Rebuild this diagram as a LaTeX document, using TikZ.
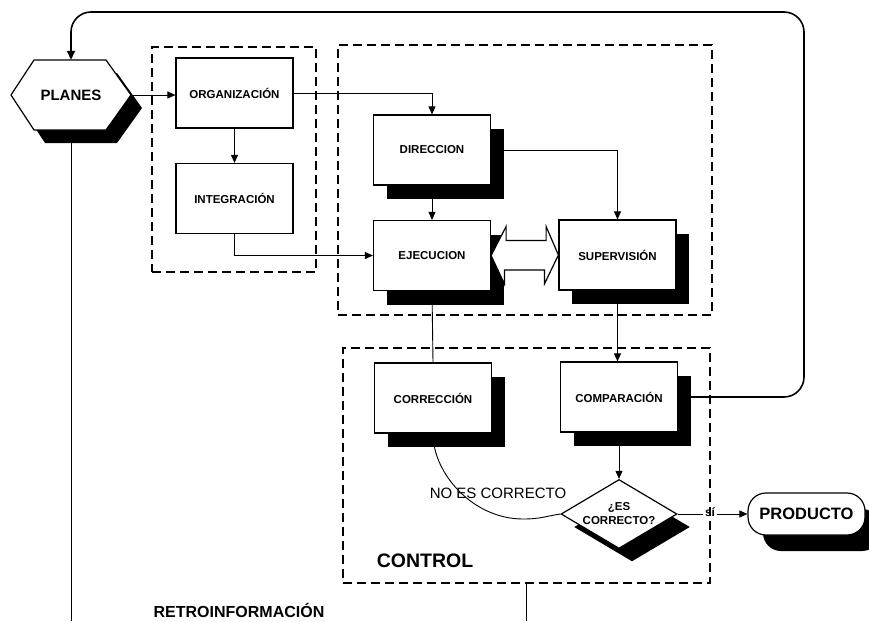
\documentclass[tikz,border=0pt]{standalone}
\usepackage{fontspec}
\setmainfont{Liberation Sans}
\usetikzlibrary{arrows.meta,shapes.geometric,shadows,calc}
\begin{document}
\begin{tikzpicture}[x=1pt,y=-1pt,
  box/.style={draw, line width=1.2pt, fill=white, minimum width=117pt, minimum height=70pt, inner sep=0pt, font=\bfseries\fontsize{11.5}{13}\selectfont},
  shbox/.style={box, drop shadow={shadow xshift=13pt, shadow yshift=-14pt, fill=black, opacity=1}},
  dframe/.style={draw, dash pattern=on 9pt off 5pt, line width=1.2pt, inner sep=0pt},
  conn/.style={line width=0.9pt},
  arr/.style={conn, -{Triangle[length=8pt,width=7pt]}},
  txt/.style={inner sep=0pt}
]
\useasboundingbox (0,0) rectangle (869,621);
\coordinate (bot) at (0,621);
\coordinate (tr) at (804,12);
\coordinate (pc) at (71,95);

% dashed frames
\node[dframe, minimum width=164pt, minimum height=225pt] (g1) at (234,159.5) {};
\node[dframe, minimum width=374pt, minimum height=270pt] (g2) at (525,180) {};
\node[dframe, minimum width=367pt, minimum height=235pt] (ctrl) at (526.5,465.5) {};

% PLANES hexagon
\fill[black] ($(pc)+(-49,13)$) -- ($(pc)+(-26,-22)$) -- ($(pc)+(46,-22)$) -- ($(pc)+(71,13)$) -- ($(pc)+(46,48)$) -- ($(pc)+(-26,48)$) -- cycle;
\draw[line width=1.2pt, fill=white] ($(pc)+(-60,0)$) -- ($(pc)+(-37,-35)$) -- ($(pc)+(35,-35)$) -- ($(pc)+(60,0)$) -- ($(pc)+(35,35)$) -- ($(pc)+(-37,35)$) -- cycle;
\node[txt, minimum width=120pt, minimum height=70pt, font=\bfseries\fontsize{15}{17}\selectfont] (planes) at (pc) {PLANES};

% boxes
\node[box] (org) at (234.5,93) {ORGANIZACIÓN};
\node[box] (integ) at (234.5,198.5) {INTEGRACIÓN};
\node[shbox] (dir) at (432,150) {DIRECCION};
\node[shbox] (ejec) at (432,255.5) {EJECUCION};
\node[shbox] (super) at (617.5,255) {SUPERVISIÓN};
\node[shbox] (corr) at (433,398) {CORRECCIÓN};
\node[shbox] (comp) at (619,397) {COMPARACIÓN};

\node[diamond, draw, line width=1.2pt, fill=white, minimum width=116pt, minimum height=69pt, inner sep=0pt,
      drop shadow={shadow xshift=13pt, shadow yshift=-13pt, fill=black, opacity=1}] (dia) at (619,514) {};
\node[txt, align=center, font=\bfseries\fontsize{11.5}{14}\selectfont] (diatext) at (dia.center) {¿ES\\CORRECTO?};

\node[draw, line width=1.2pt, fill=white, rounded corners=18pt, minimum width=117pt, minimum height=42pt, inner sep=0pt,
      font=\bfseries\fontsize{16.5}{18}\selectfont,
      drop shadow={shadow xshift=15pt, shadow yshift=-16pt, fill=black, opacity=1}] (prod) at (806.5,514) {PRODUCTO};

% double arrow between EJECUCION and SUPERVISION
\draw[line width=1.2pt, fill=white] (ejec.east) -- ++(15,-29) -- ++(0,14) -- ++(40,0) -- ++(0,-14) -- (super.west)
  -- ++(-14,29) -- ++(0,-14) -- ++(-40,0) -- ++(0,14) -- cycle;

% connectors
\draw[arr] (planes.east) -- (planes.east -| org.west);
\draw[arr] (org.south) -- (integ.north);
\draw[arr] (org.east) -| (dir.north);
\draw[arr] (integ.south) |- (ejec.west);
\draw[arr] (dir.south) -- (ejec.north);
\draw[arr] (dir.east) -| (super.north);
\draw[conn] (ejec.south) -- (corr.north);
\draw[arr] (super.south) -- (super.south |- comp.north);
\draw[arr] (comp.south) -- (comp.south |- dia.north);

\node[inner sep=1.5pt, font=\bfseries\fontsize{12}{13}\selectfont] (si) at (710,512) {sí};
\draw[conn] (dia.east) -- (dia.east -| si.west);
\draw[arr] (si.east |- dia.east) -- (dia.east -| prod.west);

\coordinate (nolow) at (523,519);
\draw[conn] (corr.south) .. controls +(0,40) and +(-50,0) .. (nolow) .. controls +(18,0) and +(-14,2) .. (dia.west);

\draw[line width=1.6pt, rounded corners=20pt, -{Triangle[length=9pt,width=8pt]}] (comp.east) -| (tr) -| (planes.north);

\draw[conn] (planes.south) -- (planes.south |- bot);
\draw[conn] (ctrl.south) -- (ctrl.south |- bot);

% labels
\node[txt, font=\fontsize{15}{17}\selectfont] (nolabel) at (498,493.5) {NO ES CORRECTO};
\node[txt, font=\bfseries\fontsize{19.5}{22}\selectfont] (ctrllabel) at (425,560.5) {CONTROL};
\node[txt, font=\bfseries\fontsize{16}{18}\selectfont] (retro) at (239,610.5) {RETROINFORMACIÓN};
\end{tikzpicture}
\end{document}
